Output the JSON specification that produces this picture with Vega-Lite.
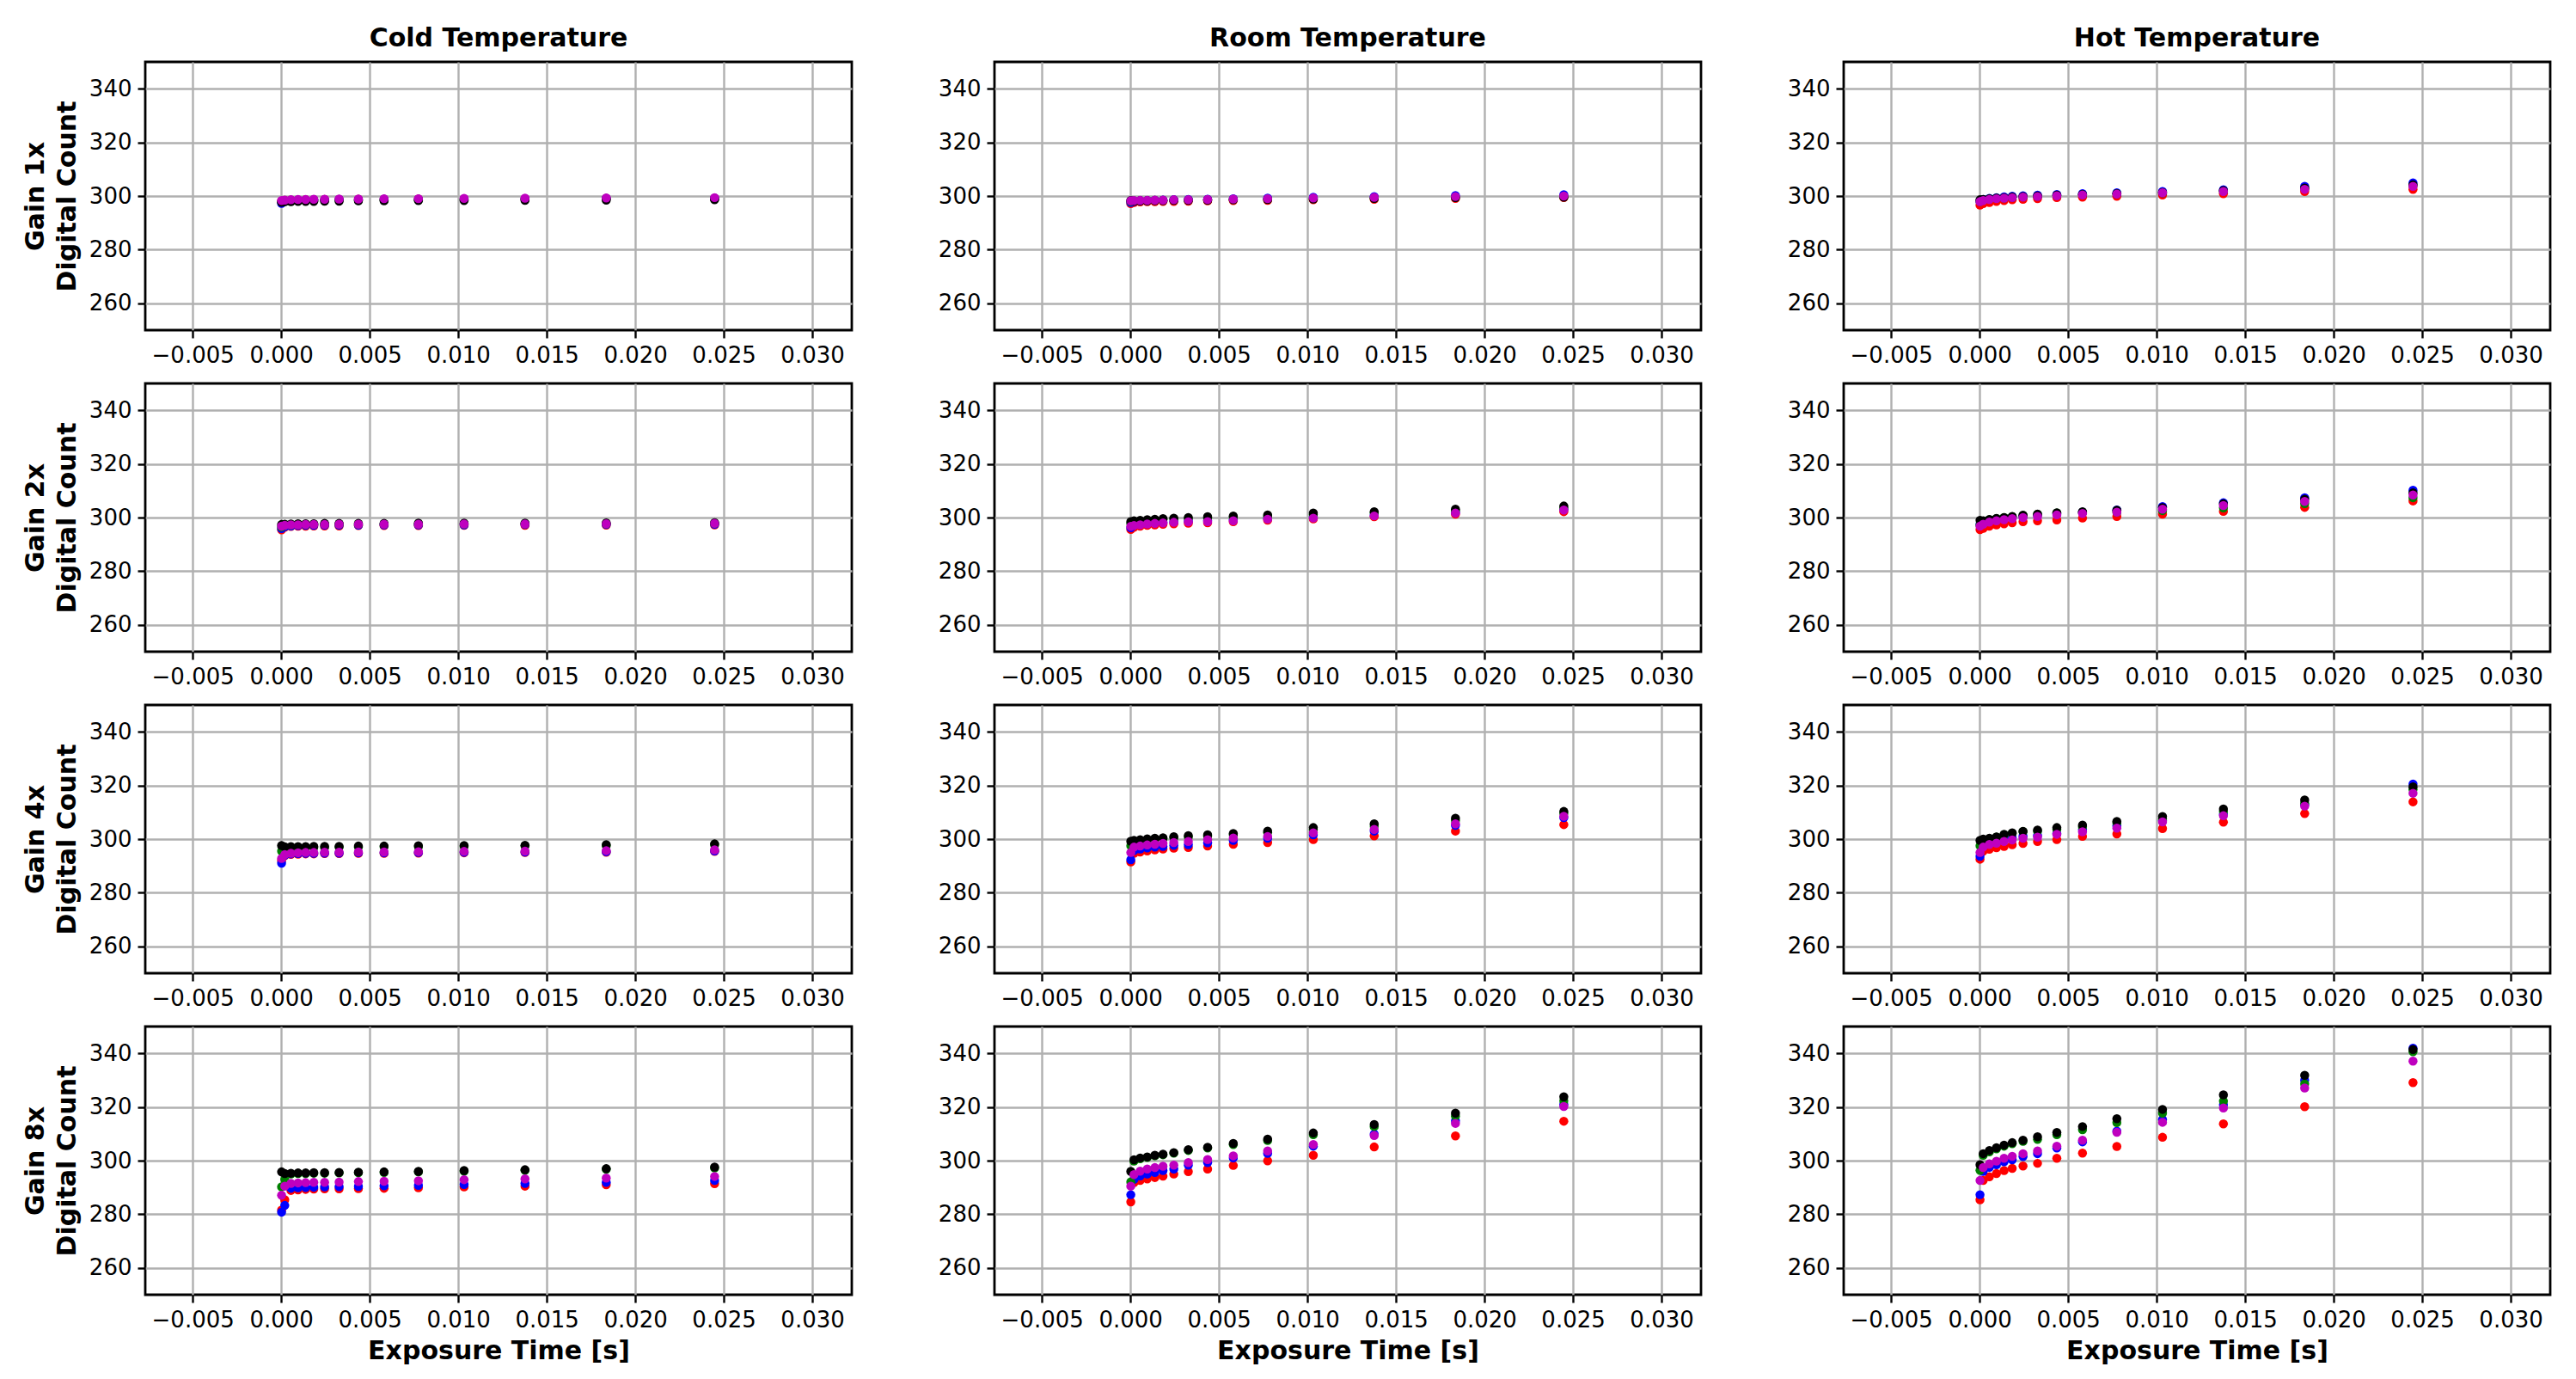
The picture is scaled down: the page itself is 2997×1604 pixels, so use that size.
{
"$schema":"https://vega.github.io/schema/vega-lite/v6.json",
"background":"white",
"padding":{"left":24,"top":28,"right":10,"bottom":10},
"config":{
"font":"DejaVu Sans",
"view":{"stroke":"black","strokeWidth":2.8},
"axis":{"labelFont":"DejaVu Sans","labelFontSize":26,"labelColor":"black","titleFont":"DejaVu Sans","titleFontSize":30,"titleFontWeight":"bold","titleColor":"black","tickColor":"black","tickSize":9,"tickWidth":2.4,"labelPadding":7,"gridColor":"#b0b0b0","gridWidth":2.4,"gridOpacity":1,"domain":false,"grid":true,"labelFlush":false,"labelOverlap":false,"titleLineHeight":37},
"axisY":{"titlePadding":10},
"axisX":{"titlePadding":8},
"title":{"font":"DejaVu Sans","fontSize":30,"fontWeight":"bold","color":"black","offset":12,"anchor":"middle"}
},
"datasets":{
"C1":[
{"s":"r","x":0.02448,"y":299.2},{"s":"r","x":0.01836,"y":299.1},{"s":"r","x":0.01377,"y":299.0},{"s":"r","x":0.01033,"y":298.9},{"s":"r","x":0.00775,"y":298.9},{"s":"r","x":0.00581,"y":298.8},{"s":"r","x":0.00436,"y":298.8},{"s":"r","x":0.00327,"y":298.7},{"s":"r","x":0.00245,"y":298.7},{"s":"r","x":0.00184,"y":298.6},{"s":"r","x":0.00138,"y":298.6},{"s":"r","x":0.00095,"y":298.5},{"s":"r","x":0.00055,"y":298.5},{"s":"r","x":0.0002,"y":298.4},{"s":"r","x":0.00002,"y":298.1},
{"s":"b","x":0.02448,"y":299.2},{"s":"b","x":0.01836,"y":299.1},{"s":"b","x":0.01377,"y":299.0},{"s":"b","x":0.01033,"y":298.9},{"s":"b","x":0.00775,"y":298.8},{"s":"b","x":0.00581,"y":298.8},{"s":"b","x":0.00436,"y":298.7},{"s":"b","x":0.00327,"y":298.7},{"s":"b","x":0.00245,"y":298.6},{"s":"b","x":0.00184,"y":298.6},{"s":"b","x":0.00138,"y":298.5},{"s":"b","x":0.00095,"y":298.5},{"s":"b","x":0.00055,"y":298.4},{"s":"b","x":0.0002,"y":298.2},{"s":"b","x":0.00002,"y":297.3},
{"s":"g","x":0.02448,"y":298.9},{"s":"g","x":0.01836,"y":298.8},{"s":"g","x":0.01377,"y":298.7},{"s":"g","x":0.01033,"y":298.6},{"s":"g","x":0.00775,"y":298.5},{"s":"g","x":0.00581,"y":298.5},{"s":"g","x":0.00436,"y":298.4},{"s":"g","x":0.00327,"y":298.4},{"s":"g","x":0.00245,"y":298.3},{"s":"g","x":0.00184,"y":298.3},{"s":"g","x":0.00138,"y":298.2},{"s":"g","x":0.00095,"y":298.2},{"s":"g","x":0.00055,"y":298.1},{"s":"g","x":0.0002,"y":298.0},{"s":"g","x":0.00002,"y":297.8},
{"s":"k","x":0.02448,"y":298.6},{"s":"k","x":0.01836,"y":298.5},{"s":"k","x":0.01377,"y":298.4},{"s":"k","x":0.01033,"y":298.3},{"s":"k","x":0.00775,"y":298.3},{"s":"k","x":0.00581,"y":298.2},{"s":"k","x":0.00436,"y":298.2},{"s":"k","x":0.00327,"y":298.1},{"s":"k","x":0.00245,"y":298.1},{"s":"k","x":0.00184,"y":298.0},{"s":"k","x":0.00138,"y":298.0},{"s":"k","x":0.00095,"y":298.0},{"s":"k","x":0.00055,"y":297.9},{"s":"k","x":0.0002,"y":297.9},{"s":"k","x":0.00002,"y":297.7},
{"s":"m","x":0.02448,"y":299.4},{"s":"m","x":0.01836,"y":299.3},{"s":"m","x":0.01377,"y":299.2},{"s":"m","x":0.01033,"y":299.1},{"s":"m","x":0.00775,"y":299.0},{"s":"m","x":0.00581,"y":299.0},{"s":"m","x":0.00436,"y":298.9},{"s":"m","x":0.00327,"y":298.9},{"s":"m","x":0.00245,"y":298.8},{"s":"m","x":0.00184,"y":298.8},{"s":"m","x":0.00138,"y":298.7},{"s":"m","x":0.00095,"y":298.7},{"s":"m","x":0.00055,"y":298.6},{"s":"m","x":0.0002,"y":298.5},{"s":"m","x":0.00002,"y":298.3}],
"C2":[
{"s":"r","x":0.02448,"y":297.3},{"s":"r","x":0.01836,"y":297.2},{"s":"r","x":0.01377,"y":297.1},{"s":"r","x":0.01033,"y":297.1},{"s":"r","x":0.00775,"y":297.0},{"s":"r","x":0.00581,"y":297.0},{"s":"r","x":0.00436,"y":297.0},{"s":"r","x":0.00327,"y":296.9},{"s":"r","x":0.00245,"y":296.9},{"s":"r","x":0.00184,"y":296.9},{"s":"r","x":0.00138,"y":296.8},{"s":"r","x":0.00095,"y":296.8},{"s":"r","x":0.00055,"y":296.7},{"s":"r","x":0.0002,"y":296.4},{"s":"r","x":0.00002,"y":295.4},
{"s":"b","x":0.02448,"y":297.5},{"s":"b","x":0.01836,"y":297.4},{"s":"b","x":0.01377,"y":297.4},{"s":"b","x":0.01033,"y":297.3},{"s":"b","x":0.00775,"y":297.3},{"s":"b","x":0.00581,"y":297.3},{"s":"b","x":0.00436,"y":297.2},{"s":"b","x":0.00327,"y":297.2},{"s":"b","x":0.00245,"y":297.2},{"s":"b","x":0.00184,"y":297.1},{"s":"b","x":0.00138,"y":297.1},{"s":"b","x":0.00095,"y":297.0},{"s":"b","x":0.00055,"y":296.9},{"s":"b","x":0.0002,"y":296.6},{"s":"b","x":0.00002,"y":295.9},
{"s":"g","x":0.02448,"y":297.8},{"s":"g","x":0.01836,"y":297.7},{"s":"g","x":0.01377,"y":297.7},{"s":"g","x":0.01033,"y":297.6},{"s":"g","x":0.00775,"y":297.6},{"s":"g","x":0.00581,"y":297.6},{"s":"g","x":0.00436,"y":297.5},{"s":"g","x":0.00327,"y":297.5},{"s":"g","x":0.00245,"y":297.5},{"s":"g","x":0.00184,"y":297.5},{"s":"g","x":0.00138,"y":297.4},{"s":"g","x":0.00095,"y":297.4},{"s":"g","x":0.00055,"y":297.3},{"s":"g","x":0.0002,"y":297.1},{"s":"g","x":0.00002,"y":296.5},
{"s":"k","x":0.02448,"y":298.1},{"s":"k","x":0.01836,"y":298.0},{"s":"k","x":0.01377,"y":297.9},{"s":"k","x":0.01033,"y":297.9},{"s":"k","x":0.00775,"y":297.9},{"s":"k","x":0.00581,"y":297.8},{"s":"k","x":0.00436,"y":297.8},{"s":"k","x":0.00327,"y":297.8},{"s":"k","x":0.00245,"y":297.8},{"s":"k","x":0.00184,"y":297.7},{"s":"k","x":0.00138,"y":297.7},{"s":"k","x":0.00095,"y":297.7},{"s":"k","x":0.00055,"y":297.6},{"s":"k","x":0.0002,"y":297.5},{"s":"k","x":0.00002,"y":297.4},
{"s":"m","x":0.02448,"y":297.8},{"s":"m","x":0.01836,"y":297.7},{"s":"m","x":0.01377,"y":297.6},{"s":"m","x":0.01033,"y":297.6},{"s":"m","x":0.00775,"y":297.5},{"s":"m","x":0.00581,"y":297.5},{"s":"m","x":0.00436,"y":297.5},{"s":"m","x":0.00327,"y":297.5},{"s":"m","x":0.00245,"y":297.4},{"s":"m","x":0.00184,"y":297.4},{"s":"m","x":0.00138,"y":297.4},{"s":"m","x":0.00095,"y":297.3},{"s":"m","x":0.00055,"y":297.3},{"s":"m","x":0.0002,"y":297.1},{"s":"m","x":0.00002,"y":296.8}],
"C4":[
{"s":"r","x":0.02448,"y":295.4},{"s":"r","x":0.01836,"y":295.1},{"s":"r","x":0.01377,"y":295.0},{"s":"r","x":0.01033,"y":294.9},{"s":"r","x":0.00775,"y":294.8},{"s":"r","x":0.00581,"y":294.7},{"s":"r","x":0.00436,"y":294.7},{"s":"r","x":0.00327,"y":294.6},{"s":"r","x":0.00245,"y":294.6},{"s":"r","x":0.00184,"y":294.5},{"s":"r","x":0.00138,"y":294.5},{"s":"r","x":0.00095,"y":294.4},{"s":"r","x":0.00055,"y":294.3},{"s":"r","x":0.0002,"y":293.8},{"s":"r","x":0.00002,"y":292.0},
{"s":"b","x":0.02448,"y":295.6},{"s":"b","x":0.01836,"y":295.3},{"s":"b","x":0.01377,"y":295.2},{"s":"b","x":0.01033,"y":295.1},{"s":"b","x":0.00775,"y":295.0},{"s":"b","x":0.00581,"y":294.9},{"s":"b","x":0.00436,"y":294.9},{"s":"b","x":0.00327,"y":294.8},{"s":"b","x":0.00245,"y":294.8},{"s":"b","x":0.00184,"y":294.7},{"s":"b","x":0.00138,"y":294.7},{"s":"b","x":0.00095,"y":294.6},{"s":"b","x":0.00055,"y":294.5},{"s":"b","x":0.0002,"y":294.0},{"s":"b","x":0.00002,"y":291.0},
{"s":"g","x":0.02448,"y":297.9},{"s":"g","x":0.01836,"y":297.6},{"s":"g","x":0.01377,"y":297.4},{"s":"g","x":0.01033,"y":297.3},{"s":"g","x":0.00775,"y":297.2},{"s":"g","x":0.00581,"y":297.1},{"s":"g","x":0.00436,"y":297.0},{"s":"g","x":0.00327,"y":297.0},{"s":"g","x":0.00245,"y":296.9},{"s":"g","x":0.00184,"y":296.9},{"s":"g","x":0.00138,"y":296.8},{"s":"g","x":0.00095,"y":296.7},{"s":"g","x":0.00055,"y":296.6},{"s":"g","x":0.0002,"y":296.3},{"s":"g","x":0.00002,"y":295.5},
{"s":"k","x":0.02448,"y":298.2},{"s":"k","x":0.01836,"y":297.9},{"s":"k","x":0.01377,"y":297.7},{"s":"k","x":0.01033,"y":297.6},{"s":"k","x":0.00775,"y":297.5},{"s":"k","x":0.00581,"y":297.4},{"s":"k","x":0.00436,"y":297.4},{"s":"k","x":0.00327,"y":297.3},{"s":"k","x":0.00245,"y":297.3},{"s":"k","x":0.00184,"y":297.3},{"s":"k","x":0.00138,"y":297.2},{"s":"k","x":0.00095,"y":297.2},{"s":"k","x":0.00055,"y":297.2},{"s":"k","x":0.0002,"y":297.1},{"s":"k","x":0.00002,"y":297.6},
{"s":"m","x":0.02448,"y":296.0},{"s":"m","x":0.01836,"y":295.7},{"s":"m","x":0.01377,"y":295.5},{"s":"m","x":0.01033,"y":295.4},{"s":"m","x":0.00775,"y":295.3},{"s":"m","x":0.00581,"y":295.2},{"s":"m","x":0.00436,"y":295.2},{"s":"m","x":0.00327,"y":295.1},{"s":"m","x":0.00245,"y":295.1},{"s":"m","x":0.00184,"y":295.0},{"s":"m","x":0.00138,"y":295.0},{"s":"m","x":0.00095,"y":294.9},{"s":"m","x":0.00055,"y":294.7},{"s":"m","x":0.0002,"y":294.2},{"s":"m","x":0.00002,"y":292.8}],
"C8":[
{"s":"r","x":0.02448,"y":291.4},{"s":"r","x":0.01836,"y":291.0},{"s":"r","x":0.01377,"y":290.5},{"s":"r","x":0.01033,"y":290.2},{"s":"r","x":0.00775,"y":289.9},{"s":"r","x":0.00581,"y":289.7},{"s":"r","x":0.00436,"y":289.6},{"s":"r","x":0.00327,"y":289.5},{"s":"r","x":0.00245,"y":289.5},{"s":"r","x":0.00184,"y":289.4},{"s":"r","x":0.00138,"y":289.3},{"s":"r","x":0.00095,"y":289.1},{"s":"r","x":0.00055,"y":288.9},{"s":"r","x":0.0002,"y":285.4},{"s":"r","x":0.00002,"y":281.6},
{"s":"b","x":0.02448,"y":292.6},{"s":"b","x":0.01836,"y":291.9},{"s":"b","x":0.01377,"y":291.5},{"s":"b","x":0.01033,"y":291.1},{"s":"b","x":0.00775,"y":290.8},{"s":"b","x":0.00581,"y":290.6},{"s":"b","x":0.00436,"y":290.4},{"s":"b","x":0.00327,"y":290.3},{"s":"b","x":0.00245,"y":290.2},{"s":"b","x":0.00184,"y":290.1},{"s":"b","x":0.00138,"y":290.0},{"s":"b","x":0.00095,"y":289.9},{"s":"b","x":0.00055,"y":289.7},{"s":"b","x":0.0002,"y":283.3},{"s":"b","x":0.00002,"y":280.8},
{"s":"g","x":0.02448,"y":297.3},{"s":"g","x":0.01836,"y":296.8},{"s":"g","x":0.01377,"y":296.4},{"s":"g","x":0.01033,"y":296.1},{"s":"g","x":0.00775,"y":295.8},{"s":"g","x":0.00581,"y":295.6},{"s":"g","x":0.00436,"y":295.5},{"s":"g","x":0.00327,"y":295.4},{"s":"g","x":0.00245,"y":295.3},{"s":"g","x":0.00184,"y":295.3},{"s":"g","x":0.00138,"y":295.2},{"s":"g","x":0.00095,"y":295.2},{"s":"g","x":0.00055,"y":295.0},{"s":"g","x":0.0002,"y":293.0},{"s":"g","x":0.00002,"y":290.2},
{"s":"k","x":0.02448,"y":297.6},{"s":"k","x":0.01836,"y":297.0},{"s":"k","x":0.01377,"y":296.6},{"s":"k","x":0.01033,"y":296.3},{"s":"k","x":0.00775,"y":296.0},{"s":"k","x":0.00581,"y":295.8},{"s":"k","x":0.00436,"y":295.7},{"s":"k","x":0.00327,"y":295.6},{"s":"k","x":0.00245,"y":295.5},{"s":"k","x":0.00184,"y":295.5},{"s":"k","x":0.00138,"y":295.4},{"s":"k","x":0.00095,"y":295.4},{"s":"k","x":0.00055,"y":295.3},{"s":"k","x":0.0002,"y":295.2},{"s":"k","x":0.00002,"y":295.8},
{"s":"m","x":0.02448,"y":294.1},{"s":"m","x":0.01836,"y":293.5},{"s":"m","x":0.01377,"y":293.2},{"s":"m","x":0.01033,"y":292.9},{"s":"m","x":0.00775,"y":292.5},{"s":"m","x":0.00581,"y":292.3},{"s":"m","x":0.00436,"y":292.2},{"s":"m","x":0.00327,"y":292.0},{"s":"m","x":0.00245,"y":291.9},{"s":"m","x":0.00184,"y":291.9},{"s":"m","x":0.00138,"y":291.8},{"s":"m","x":0.00095,"y":291.7},{"s":"m","x":0.00055,"y":291.5},{"s":"m","x":0.0002,"y":290.5},{"s":"m","x":0.00002,"y":287.1}],
"R1":[
{"s":"r","x":0.02448,"y":299.4},{"s":"r","x":0.01836,"y":299.1},{"s":"r","x":0.01377,"y":298.8},{"s":"r","x":0.01033,"y":298.6},{"s":"r","x":0.00775,"y":298.4},{"s":"r","x":0.00581,"y":298.3},{"s":"r","x":0.00436,"y":298.2},{"s":"r","x":0.00327,"y":298.1},{"s":"r","x":0.00245,"y":298.0},{"s":"r","x":0.00184,"y":298.0},{"s":"r","x":0.00138,"y":297.9},{"s":"r","x":0.00095,"y":297.9},{"s":"r","x":0.00055,"y":297.8},{"s":"r","x":0.0002,"y":297.6},{"s":"r","x":0.00002,"y":297.2},
{"s":"b","x":0.02448,"y":300.5},{"s":"b","x":0.01836,"y":300.2},{"s":"b","x":0.01377,"y":299.8},{"s":"b","x":0.01033,"y":299.5},{"s":"b","x":0.00775,"y":299.2},{"s":"b","x":0.00581,"y":299.0},{"s":"b","x":0.00436,"y":298.8},{"s":"b","x":0.00327,"y":298.7},{"s":"b","x":0.00245,"y":298.6},{"s":"b","x":0.00184,"y":298.5},{"s":"b","x":0.00138,"y":298.4},{"s":"b","x":0.00095,"y":298.3},{"s":"b","x":0.00055,"y":298.2},{"s":"b","x":0.0002,"y":298.0},{"s":"b","x":0.00002,"y":297.6},
{"s":"g","x":0.02448,"y":299.7},{"s":"g","x":0.01836,"y":299.5},{"s":"g","x":0.01377,"y":299.2},{"s":"g","x":0.01033,"y":299.0},{"s":"g","x":0.00775,"y":298.8},{"s":"g","x":0.00581,"y":298.7},{"s":"g","x":0.00436,"y":298.6},{"s":"g","x":0.00327,"y":298.5},{"s":"g","x":0.00245,"y":298.5},{"s":"g","x":0.00184,"y":298.4},{"s":"g","x":0.00138,"y":298.4},{"s":"g","x":0.00095,"y":298.3},{"s":"g","x":0.00055,"y":298.3},{"s":"g","x":0.0002,"y":298.2},{"s":"g","x":0.00002,"y":298.0},
{"s":"k","x":0.02448,"y":299.6},{"s":"k","x":0.01836,"y":299.4},{"s":"k","x":0.01377,"y":299.1},{"s":"k","x":0.01033,"y":298.9},{"s":"k","x":0.00775,"y":298.7},{"s":"k","x":0.00581,"y":298.6},{"s":"k","x":0.00436,"y":298.5},{"s":"k","x":0.00327,"y":298.4},{"s":"k","x":0.00245,"y":298.4},{"s":"k","x":0.00184,"y":298.3},{"s":"k","x":0.00138,"y":298.3},{"s":"k","x":0.00095,"y":298.2},{"s":"k","x":0.00055,"y":298.2},{"s":"k","x":0.0002,"y":298.1},{"s":"k","x":0.00002,"y":298.3},
{"s":"m","x":0.02448,"y":300.0},{"s":"m","x":0.01836,"y":299.8},{"s":"m","x":0.01377,"y":299.5},{"s":"m","x":0.01033,"y":299.3},{"s":"m","x":0.00775,"y":299.0},{"s":"m","x":0.00581,"y":298.9},{"s":"m","x":0.00436,"y":298.7},{"s":"m","x":0.00327,"y":298.6},{"s":"m","x":0.00245,"y":298.6},{"s":"m","x":0.00184,"y":298.5},{"s":"m","x":0.00138,"y":298.5},{"s":"m","x":0.00095,"y":298.4},{"s":"m","x":0.00055,"y":298.4},{"s":"m","x":0.0002,"y":298.3},{"s":"m","x":0.00002,"y":298.2}],
"R2":[
{"s":"r","x":0.02448,"y":302.2},{"s":"r","x":0.01836,"y":301.3},{"s":"r","x":0.01377,"y":300.3},{"s":"r","x":0.01033,"y":299.5},{"s":"r","x":0.00775,"y":299.0},{"s":"r","x":0.00581,"y":298.5},{"s":"r","x":0.00436,"y":298.1},{"s":"r","x":0.00327,"y":297.9},{"s":"r","x":0.00245,"y":297.7},{"s":"r","x":0.00184,"y":297.5},{"s":"r","x":0.00138,"y":297.3},{"s":"r","x":0.00095,"y":297.1},{"s":"r","x":0.00055,"y":296.8},{"s":"r","x":0.0002,"y":296.4},{"s":"r","x":0.00002,"y":295.6},
{"s":"b","x":0.02448,"y":303.1},{"s":"b","x":0.01836,"y":302.0},{"s":"b","x":0.01377,"y":301.0},{"s":"b","x":0.01033,"y":300.3},{"s":"b","x":0.00775,"y":299.7},{"s":"b","x":0.00581,"y":299.2},{"s":"b","x":0.00436,"y":298.9},{"s":"b","x":0.00327,"y":298.7},{"s":"b","x":0.00245,"y":298.5},{"s":"b","x":0.00184,"y":298.3},{"s":"b","x":0.00138,"y":298.1},{"s":"b","x":0.00095,"y":297.9},{"s":"b","x":0.00055,"y":297.6},{"s":"b","x":0.0002,"y":297.2},{"s":"b","x":0.00002,"y":296.2},
{"s":"g","x":0.02448,"y":303.6},{"s":"g","x":0.01836,"y":302.6},{"s":"g","x":0.01377,"y":301.7},{"s":"g","x":0.01033,"y":301.1},{"s":"g","x":0.00775,"y":300.4},{"s":"g","x":0.00581,"y":300.1},{"s":"g","x":0.00436,"y":299.9},{"s":"g","x":0.00327,"y":299.7},{"s":"g","x":0.00245,"y":299.5},{"s":"g","x":0.00184,"y":299.3},{"s":"g","x":0.00138,"y":299.1},{"s":"g","x":0.00095,"y":298.9},{"s":"g","x":0.00055,"y":298.7},{"s":"g","x":0.0002,"y":298.4},{"s":"g","x":0.00002,"y":297.8},
{"s":"k","x":0.02448,"y":304.3},{"s":"k","x":0.01836,"y":303.1},{"s":"k","x":0.01377,"y":302.2},{"s":"k","x":0.01033,"y":301.7},{"s":"k","x":0.00775,"y":301.0},{"s":"k","x":0.00581,"y":300.6},{"s":"k","x":0.00436,"y":300.3},{"s":"k","x":0.00327,"y":300.0},{"s":"k","x":0.00245,"y":299.8},{"s":"k","x":0.00184,"y":299.6},{"s":"k","x":0.00138,"y":299.4},{"s":"k","x":0.00095,"y":299.2},{"s":"k","x":0.00055,"y":299.0},{"s":"k","x":0.0002,"y":298.8},{"s":"k","x":0.00002,"y":298.5},
{"s":"m","x":0.02448,"y":302.8},{"s":"m","x":0.01836,"y":301.7},{"s":"m","x":0.01377,"y":300.6},{"s":"m","x":0.01033,"y":299.8},{"s":"m","x":0.00775,"y":299.4},{"s":"m","x":0.00581,"y":298.8},{"s":"m","x":0.00436,"y":298.5},{"s":"m","x":0.00327,"y":298.4},{"s":"m","x":0.00245,"y":298.2},{"s":"m","x":0.00184,"y":298.0},{"s":"m","x":0.00138,"y":297.8},{"s":"m","x":0.00095,"y":297.6},{"s":"m","x":0.00055,"y":297.3},{"s":"m","x":0.0002,"y":297.0},{"s":"m","x":0.00002,"y":296.7}],
"R4":[
{"s":"r","x":0.02448,"y":305.4},{"s":"r","x":0.01836,"y":303.0},{"s":"r","x":0.01377,"y":301.2},{"s":"r","x":0.01033,"y":299.8},{"s":"r","x":0.00775,"y":298.7},{"s":"r","x":0.00581,"y":298.1},{"s":"r","x":0.00436,"y":297.4},{"s":"r","x":0.00327,"y":296.9},{"s":"r","x":0.00245,"y":296.6},{"s":"r","x":0.00184,"y":296.3},{"s":"r","x":0.00138,"y":296.0},{"s":"r","x":0.00095,"y":295.6},{"s":"r","x":0.00055,"y":295.2},{"s":"r","x":0.0002,"y":294.7},{"s":"r","x":0.00002,"y":291.5},
{"s":"b","x":0.02448,"y":308.0},{"s":"b","x":0.01836,"y":305.1},{"s":"b","x":0.01377,"y":303.0},{"s":"b","x":0.01033,"y":301.6},{"s":"b","x":0.00775,"y":300.3},{"s":"b","x":0.00581,"y":299.5},{"s":"b","x":0.00436,"y":298.6},{"s":"b","x":0.00327,"y":297.9},{"s":"b","x":0.00245,"y":297.7},{"s":"b","x":0.00184,"y":297.3},{"s":"b","x":0.00138,"y":297.0},{"s":"b","x":0.00095,"y":296.7},{"s":"b","x":0.00055,"y":296.3},{"s":"b","x":0.0002,"y":295.7},{"s":"b","x":0.00002,"y":292.3},
{"s":"g","x":0.02448,"y":309.6},{"s":"g","x":0.01836,"y":306.9},{"s":"g","x":0.01377,"y":304.8},{"s":"g","x":0.01033,"y":303.5},{"s":"g","x":0.00775,"y":302.5},{"s":"g","x":0.00581,"y":301.6},{"s":"g","x":0.00436,"y":301.1},{"s":"g","x":0.00327,"y":300.8},{"s":"g","x":0.00245,"y":300.5},{"s":"g","x":0.00184,"y":300.2},{"s":"g","x":0.00138,"y":300.0},{"s":"g","x":0.00095,"y":299.7},{"s":"g","x":0.00055,"y":299.4},{"s":"g","x":0.0002,"y":299.0},{"s":"g","x":0.00002,"y":297.5},
{"s":"k","x":0.02448,"y":310.3},{"s":"k","x":0.01836,"y":307.8},{"s":"k","x":0.01377,"y":305.7},{"s":"k","x":0.01033,"y":304.3},{"s":"k","x":0.00775,"y":303.0},{"s":"k","x":0.00581,"y":302.1},{"s":"k","x":0.00436,"y":301.6},{"s":"k","x":0.00327,"y":301.3},{"s":"k","x":0.00245,"y":300.9},{"s":"k","x":0.00184,"y":300.5},{"s":"k","x":0.00138,"y":300.3},{"s":"k","x":0.00095,"y":300.1},{"s":"k","x":0.00055,"y":299.8},{"s":"k","x":0.0002,"y":299.5},{"s":"k","x":0.00002,"y":299.2},
{"s":"m","x":0.02448,"y":308.5},{"s":"m","x":0.01836,"y":305.7},{"s":"m","x":0.01377,"y":303.6},{"s":"m","x":0.01033,"y":302.3},{"s":"m","x":0.00775,"y":301.0},{"s":"m","x":0.00581,"y":300.4},{"s":"m","x":0.00436,"y":299.8},{"s":"m","x":0.00327,"y":299.1},{"s":"m","x":0.00245,"y":298.7},{"s":"m","x":0.00184,"y":298.4},{"s":"m","x":0.00138,"y":298.1},{"s":"m","x":0.00095,"y":297.8},{"s":"m","x":0.00055,"y":297.4},{"s":"m","x":0.0002,"y":297.0},{"s":"m","x":0.00002,"y":295.0}],
"R8":[
{"s":"r","x":0.02448,"y":314.7},{"s":"r","x":0.01836,"y":309.2},{"s":"r","x":0.01377,"y":305.1},{"s":"r","x":0.01033,"y":302.0},{"s":"r","x":0.00775,"y":299.9},{"s":"r","x":0.00581,"y":298.2},{"s":"r","x":0.00436,"y":296.9},{"s":"r","x":0.00327,"y":295.9},{"s":"r","x":0.00245,"y":295.0},{"s":"r","x":0.00184,"y":294.2},{"s":"r","x":0.00138,"y":293.7},{"s":"r","x":0.00095,"y":293.2},{"s":"r","x":0.00055,"y":292.6},{"s":"r","x":0.0002,"y":291.8},{"s":"r","x":0.00002,"y":284.6},
{"s":"b","x":0.02448,"y":320.9},{"s":"b","x":0.01836,"y":314.8},{"s":"b","x":0.01377,"y":309.9},{"s":"b","x":0.01033,"y":305.4},{"s":"b","x":0.00775,"y":302.7},{"s":"b","x":0.00581,"y":301.0},{"s":"b","x":0.00436,"y":299.3},{"s":"b","x":0.00327,"y":298.3},{"s":"b","x":0.00245,"y":296.9},{"s":"b","x":0.00184,"y":296.3},{"s":"b","x":0.00138,"y":295.6},{"s":"b","x":0.00095,"y":295.0},{"s":"b","x":0.00055,"y":294.3},{"s":"b","x":0.0002,"y":293.0},{"s":"b","x":0.00002,"y":287.3},
{"s":"g","x":0.02448,"y":322.3},{"s":"g","x":0.01836,"y":316.6},{"s":"g","x":0.01377,"y":312.7},{"s":"g","x":0.01033,"y":309.7},{"s":"g","x":0.00775,"y":307.5},{"s":"g","x":0.00581,"y":306.0},{"s":"g","x":0.00436,"y":304.7},{"s":"g","x":0.00327,"y":303.8},{"s":"g","x":0.00245,"y":302.8},{"s":"g","x":0.00184,"y":302.2},{"s":"g","x":0.00138,"y":301.8},{"s":"g","x":0.00095,"y":301.2},{"s":"g","x":0.00055,"y":300.7},{"s":"g","x":0.0002,"y":299.8},{"s":"g","x":0.00002,"y":292.1},
{"s":"k","x":0.02448,"y":323.8},{"s":"k","x":0.01836,"y":317.7},{"s":"k","x":0.01377,"y":313.5},{"s":"k","x":0.01033,"y":310.3},{"s":"k","x":0.00775,"y":308.0},{"s":"k","x":0.00581,"y":306.4},{"s":"k","x":0.00436,"y":305.0},{"s":"k","x":0.00327,"y":304.1},{"s":"k","x":0.00245,"y":303.0},{"s":"k","x":0.00184,"y":302.4},{"s":"k","x":0.00138,"y":302.0},{"s":"k","x":0.00095,"y":301.4},{"s":"k","x":0.00055,"y":301.0},{"s":"k","x":0.0002,"y":300.3},{"s":"k","x":0.00002,"y":296.0},
{"s":"m","x":0.02448,"y":320.2},{"s":"m","x":0.01836,"y":313.9},{"s":"m","x":0.01377,"y":309.4},{"s":"m","x":0.01033,"y":306.0},{"s":"m","x":0.00775,"y":303.6},{"s":"m","x":0.00581,"y":301.8},{"s":"m","x":0.00436,"y":300.4},{"s":"m","x":0.00327,"y":299.3},{"s":"m","x":0.00245,"y":298.3},{"s":"m","x":0.00184,"y":297.9},{"s":"m","x":0.00138,"y":297.4},{"s":"m","x":0.00095,"y":296.9},{"s":"m","x":0.00055,"y":296.1},{"s":"m","x":0.0002,"y":294.8},{"s":"m","x":0.00002,"y":290.5}],
"H1":[
{"s":"r","x":0.02448,"y":302.5},{"s":"r","x":0.01836,"y":301.7},{"s":"r","x":0.01377,"y":300.9},{"s":"r","x":0.01033,"y":300.4},{"s":"r","x":0.00775,"y":299.9},{"s":"r","x":0.00581,"y":299.6},{"s":"r","x":0.00436,"y":299.4},{"s":"r","x":0.00327,"y":299.0},{"s":"r","x":0.00245,"y":298.8},{"s":"r","x":0.00184,"y":298.6},{"s":"r","x":0.00138,"y":298.3},{"s":"r","x":0.00095,"y":298.0},{"s":"r","x":0.00055,"y":297.6},{"s":"r","x":0.0002,"y":297.2},{"s":"r","x":0.00002,"y":296.6},
{"s":"b","x":0.02448,"y":304.9},{"s":"b","x":0.01836,"y":303.6},{"s":"b","x":0.01377,"y":302.3},{"s":"b","x":0.01033,"y":301.7},{"s":"b","x":0.00775,"y":301.2},{"s":"b","x":0.00581,"y":300.9},{"s":"b","x":0.00436,"y":300.6},{"s":"b","x":0.00327,"y":300.3},{"s":"b","x":0.00245,"y":300.1},{"s":"b","x":0.00184,"y":299.9},{"s":"b","x":0.00138,"y":299.7},{"s":"b","x":0.00095,"y":299.4},{"s":"b","x":0.00055,"y":299.1},{"s":"b","x":0.0002,"y":298.7},{"s":"b","x":0.00002,"y":298.0},
{"s":"g","x":0.02448,"y":303.9},{"s":"g","x":0.01836,"y":302.8},{"s":"g","x":0.01377,"y":301.8},{"s":"g","x":0.01033,"y":301.2},{"s":"g","x":0.00775,"y":300.8},{"s":"g","x":0.00581,"y":300.5},{"s":"g","x":0.00436,"y":300.2},{"s":"g","x":0.00327,"y":299.9},{"s":"g","x":0.00245,"y":299.7},{"s":"g","x":0.00184,"y":299.5},{"s":"g","x":0.00138,"y":299.3},{"s":"g","x":0.00095,"y":299.1},{"s":"g","x":0.00055,"y":298.9},{"s":"g","x":0.0002,"y":298.5},{"s":"g","x":0.00002,"y":298.0},
{"s":"k","x":0.02448,"y":304.2},{"s":"k","x":0.01836,"y":303.0},{"s":"k","x":0.01377,"y":302.0},{"s":"k","x":0.01033,"y":301.3},{"s":"k","x":0.00775,"y":300.9},{"s":"k","x":0.00581,"y":300.6},{"s":"k","x":0.00436,"y":300.3},{"s":"k","x":0.00327,"y":300.0},{"s":"k","x":0.00245,"y":299.8},{"s":"k","x":0.00184,"y":299.6},{"s":"k","x":0.00138,"y":299.4},{"s":"k","x":0.00095,"y":299.2},{"s":"k","x":0.00055,"y":299.0},{"s":"k","x":0.0002,"y":298.7},{"s":"k","x":0.00002,"y":298.6},
{"s":"m","x":0.02448,"y":303.6},{"s":"m","x":0.01836,"y":302.5},{"s":"m","x":0.01377,"y":301.7},{"s":"m","x":0.01033,"y":301.2},{"s":"m","x":0.00775,"y":300.7},{"s":"m","x":0.00581,"y":300.4},{"s":"m","x":0.00436,"y":300.1},{"s":"m","x":0.00327,"y":299.8},{"s":"m","x":0.00245,"y":299.6},{"s":"m","x":0.00184,"y":299.4},{"s":"m","x":0.00138,"y":299.2},{"s":"m","x":0.00095,"y":299.0},{"s":"m","x":0.00055,"y":298.7},{"s":"m","x":0.0002,"y":298.3},{"s":"m","x":0.00002,"y":297.9}],
"H2":[
{"s":"r","x":0.02448,"y":306.2},{"s":"r","x":0.01836,"y":303.8},{"s":"r","x":0.01377,"y":302.3},{"s":"r","x":0.01033,"y":301.3},{"s":"r","x":0.00775,"y":300.4},{"s":"r","x":0.00581,"y":299.8},{"s":"r","x":0.00436,"y":299.1},{"s":"r","x":0.00327,"y":298.8},{"s":"r","x":0.00245,"y":298.5},{"s":"r","x":0.00184,"y":298.1},{"s":"r","x":0.00138,"y":297.7},{"s":"r","x":0.00095,"y":297.3},{"s":"r","x":0.00055,"y":296.8},{"s":"r","x":0.0002,"y":296.0},{"s":"r","x":0.00002,"y":295.5},
{"s":"b","x":0.02448,"y":310.2},{"s":"b","x":0.01836,"y":307.4},{"s":"b","x":0.01377,"y":305.5},{"s":"b","x":0.01033,"y":304.1},{"s":"b","x":0.00775,"y":302.8},{"s":"b","x":0.00581,"y":302.0},{"s":"b","x":0.00436,"y":301.4},{"s":"b","x":0.00327,"y":300.9},{"s":"b","x":0.00245,"y":300.5},{"s":"b","x":0.00184,"y":300.1},{"s":"b","x":0.00138,"y":299.8},{"s":"b","x":0.00095,"y":299.4},{"s":"b","x":0.00055,"y":299.0},{"s":"b","x":0.0002,"y":298.5},{"s":"b","x":0.00002,"y":297.5},
{"s":"g","x":0.02448,"y":307.4},{"s":"g","x":0.01836,"y":305.2},{"s":"g","x":0.01377,"y":303.6},{"s":"g","x":0.01033,"y":302.6},{"s":"g","x":0.00775,"y":302.0},{"s":"g","x":0.00581,"y":301.9},{"s":"g","x":0.00436,"y":301.7},{"s":"g","x":0.00327,"y":301.2},{"s":"g","x":0.00245,"y":300.8},{"s":"g","x":0.00184,"y":300.3},{"s":"g","x":0.00138,"y":300.0},{"s":"g","x":0.00095,"y":299.6},{"s":"g","x":0.00055,"y":299.2},{"s":"g","x":0.0002,"y":298.6},{"s":"g","x":0.00002,"y":297.2},
{"s":"k","x":0.02448,"y":309.2},{"s":"k","x":0.01836,"y":306.8},{"s":"k","x":0.01377,"y":305.1},{"s":"k","x":0.01033,"y":303.7},{"s":"k","x":0.00775,"y":302.7},{"s":"k","x":0.00581,"y":302.2},{"s":"k","x":0.00436,"y":301.8},{"s":"k","x":0.00327,"y":301.3},{"s":"k","x":0.00245,"y":300.9},{"s":"k","x":0.00184,"y":300.4},{"s":"k","x":0.00138,"y":300.0},{"s":"k","x":0.00095,"y":299.7},{"s":"k","x":0.00055,"y":299.3},{"s":"k","x":0.0002,"y":298.8},{"s":"k","x":0.00002,"y":299.0},
{"s":"m","x":0.02448,"y":308.4},{"s":"m","x":0.01836,"y":306.0},{"s":"m","x":0.01377,"y":304.5},{"s":"m","x":0.01033,"y":303.1},{"s":"m","x":0.00775,"y":302.0},{"s":"m","x":0.00581,"y":301.5},{"s":"m","x":0.00436,"y":301.0},{"s":"m","x":0.00327,"y":300.4},{"s":"m","x":0.00245,"y":300.0},{"s":"m","x":0.00184,"y":299.6},{"s":"m","x":0.00138,"y":299.2},{"s":"m","x":0.00095,"y":298.8},{"s":"m","x":0.00055,"y":298.3},{"s":"m","x":0.0002,"y":297.5},{"s":"m","x":0.00002,"y":296.8}],
"H4":[
{"s":"r","x":0.02448,"y":313.9},{"s":"r","x":0.01836,"y":309.5},{"s":"r","x":0.01377,"y":306.3},{"s":"r","x":0.01033,"y":303.9},{"s":"r","x":0.00775,"y":301.9},{"s":"r","x":0.00581,"y":301.0},{"s":"r","x":0.00436,"y":299.8},{"s":"r","x":0.00327,"y":299.1},{"s":"r","x":0.00245,"y":298.4},{"s":"r","x":0.00184,"y":297.9},{"s":"r","x":0.00138,"y":297.3},{"s":"r","x":0.00095,"y":296.8},{"s":"r","x":0.00055,"y":296.2},{"s":"r","x":0.0002,"y":295.5},{"s":"r","x":0.00002,"y":292.5},
{"s":"b","x":0.02448,"y":320.5},{"s":"b","x":0.01836,"y":312.8},{"s":"b","x":0.01377,"y":309.3},{"s":"b","x":0.01033,"y":306.9},{"s":"b","x":0.00775,"y":305.0},{"s":"b","x":0.00581,"y":303.5},{"s":"b","x":0.00436,"y":302.1},{"s":"b","x":0.00327,"y":301.4},{"s":"b","x":0.00245,"y":301.1},{"s":"b","x":0.00184,"y":300.5},{"s":"b","x":0.00138,"y":299.6},{"s":"b","x":0.00095,"y":299.0},{"s":"b","x":0.00055,"y":298.3},{"s":"b","x":0.0002,"y":297.3},{"s":"b","x":0.00002,"y":293.6},
{"s":"g","x":0.02448,"y":318.5},{"s":"g","x":0.01836,"y":313.3},{"s":"g","x":0.01377,"y":310.3},{"s":"g","x":0.01033,"y":307.5},{"s":"g","x":0.00775,"y":306.1},{"s":"g","x":0.00581,"y":304.6},{"s":"g","x":0.00436,"y":303.7},{"s":"g","x":0.00327,"y":303.0},{"s":"g","x":0.00245,"y":302.8},{"s":"g","x":0.00184,"y":302.2},{"s":"g","x":0.00138,"y":301.6},{"s":"g","x":0.00095,"y":300.7},{"s":"g","x":0.00055,"y":300.1},{"s":"g","x":0.0002,"y":299.5},{"s":"g","x":0.00002,"y":297.5},
{"s":"k","x":0.02448,"y":319.5},{"s":"k","x":0.01836,"y":314.6},{"s":"k","x":0.01377,"y":311.2},{"s":"k","x":0.01033,"y":308.4},{"s":"k","x":0.00775,"y":306.6},{"s":"k","x":0.00581,"y":305.2},{"s":"k","x":0.00436,"y":304.3},{"s":"k","x":0.00327,"y":303.4},{"s":"k","x":0.00245,"y":302.9},{"s":"k","x":0.00184,"y":302.3},{"s":"k","x":0.00138,"y":301.8},{"s":"k","x":0.00095,"y":300.8},{"s":"k","x":0.00055,"y":300.3},{"s":"k","x":0.0002,"y":300.0},{"s":"k","x":0.00002,"y":299.5},
{"s":"m","x":0.02448,"y":317.1},{"s":"m","x":0.01836,"y":312.3},{"s":"m","x":0.01377,"y":308.7},{"s":"m","x":0.01033,"y":306.4},{"s":"m","x":0.00775,"y":304.1},{"s":"m","x":0.00581,"y":302.7},{"s":"m","x":0.00436,"y":301.8},{"s":"m","x":0.00327,"y":300.7},{"s":"m","x":0.00245,"y":300.3},{"s":"m","x":0.00184,"y":299.7},{"s":"m","x":0.00138,"y":299.1},{"s":"m","x":0.00095,"y":298.5},{"s":"m","x":0.00055,"y":298.0},{"s":"m","x":0.0002,"y":297.0},{"s":"m","x":0.00002,"y":295.0}],
"H8":[
{"s":"r","x":0.02448,"y":329.1},{"s":"r","x":0.01836,"y":320.1},{"s":"r","x":0.01377,"y":313.7},{"s":"r","x":0.01033,"y":308.7},{"s":"r","x":0.00775,"y":305.3},{"s":"r","x":0.00581,"y":302.8},{"s":"r","x":0.00436,"y":300.9},{"s":"r","x":0.00327,"y":299.0},{"s":"r","x":0.00245,"y":298.0},{"s":"r","x":0.00184,"y":297.1},{"s":"r","x":0.00138,"y":296.3},{"s":"r","x":0.00095,"y":295.2},{"s":"r","x":0.00055,"y":294.0},{"s":"r","x":0.0002,"y":292.6},{"s":"r","x":0.00002,"y":285.4},
{"s":"b","x":0.02448,"y":341.9},{"s":"b","x":0.01836,"y":330.0},{"s":"b","x":0.01377,"y":320.8},{"s":"b","x":0.01033,"y":315.3},{"s":"b","x":0.00775,"y":311.0},{"s":"b","x":0.00581,"y":307.0},{"s":"b","x":0.00436,"y":304.7},{"s":"b","x":0.00327,"y":302.6},{"s":"b","x":0.00245,"y":301.5},{"s":"b","x":0.00184,"y":300.3},{"s":"b","x":0.00138,"y":299.6},{"s":"b","x":0.00095,"y":298.5},{"s":"b","x":0.00055,"y":297.5},{"s":"b","x":0.0002,"y":296.0},{"s":"b","x":0.00002,"y":287.3},
{"s":"g","x":0.02448,"y":340.6},{"s":"g","x":0.01836,"y":328.6},{"s":"g","x":0.01377,"y":322.2},{"s":"g","x":0.01033,"y":317.7},{"s":"g","x":0.00775,"y":314.2},{"s":"g","x":0.00581,"y":311.5},{"s":"g","x":0.00436,"y":309.7},{"s":"g","x":0.00327,"y":307.9},{"s":"g","x":0.00245,"y":307.2},{"s":"g","x":0.00184,"y":306.3},{"s":"g","x":0.00138,"y":305.4},{"s":"g","x":0.00095,"y":304.4},{"s":"g","x":0.00055,"y":303.3},{"s":"g","x":0.0002,"y":302.0},{"s":"g","x":0.00002,"y":296.4},
{"s":"k","x":0.02448,"y":341.4},{"s":"k","x":0.01836,"y":331.8},{"s":"k","x":0.01377,"y":324.5},{"s":"k","x":0.01033,"y":319.1},{"s":"k","x":0.00775,"y":315.6},{"s":"k","x":0.00581,"y":312.7},{"s":"k","x":0.00436,"y":310.5},{"s":"k","x":0.00327,"y":308.9},{"s":"k","x":0.00245,"y":307.6},{"s":"k","x":0.00184,"y":306.7},{"s":"k","x":0.00138,"y":305.8},{"s":"k","x":0.00095,"y":304.8},{"s":"k","x":0.00055,"y":303.8},{"s":"k","x":0.0002,"y":302.6},{"s":"k","x":0.00002,"y":298.5},
{"s":"m","x":0.02448,"y":337.1},{"s":"m","x":0.01836,"y":327.1},{"s":"m","x":0.01377,"y":319.6},{"s":"m","x":0.01033,"y":314.3},{"s":"m","x":0.00775,"y":310.6},{"s":"m","x":0.00581,"y":307.6},{"s":"m","x":0.00436,"y":305.4},{"s":"m","x":0.00327,"y":303.6},{"s":"m","x":0.00245,"y":302.6},{"s":"m","x":0.00184,"y":301.6},{"s":"m","x":0.00138,"y":300.9},{"s":"m","x":0.00095,"y":299.8},{"s":"m","x":0.00055,"y":298.8},{"s":"m","x":0.0002,"y":297.4},{"s":"m","x":0.00002,"y":292.6}]
},
"columns":3,
"spacing":{"row":62,"column":166},
"bounds":"flush",
"concat":[
{"width":822,"height":312,"data":{"name":"C1"},"title":"Cold Temperature","mark":{"type":"point","filled":true,"size":110,"opacity":1},"encoding":{"x":{"field":"x","type":"quantitative","scale":{"domain":[-0.00768,0.03223],"nice":false,"zero":false},"axis":{"values":[-0.005,0,0.005,0.01,0.015,0.02,0.025,0.03],"format":".3f","title":null}},"y":{"field":"y","type":"quantitative","scale":{"domain":[250,350],"nice":false,"zero":false},"axis":{"values":[260,280,300,320,340],"title":["Gain 1x","Digital Count"]}},"color":{"field":"s","type":"nominal","scale":{"domain":["k","g","b","m","r"],"range":["#000000","#008000","#0000ff","#bf00bf","#ff0000"]},"legend":null}}},
{"width":822,"height":312,"data":{"name":"R1"},"title":"Room Temperature","mark":{"type":"point","filled":true,"size":110,"opacity":1},"encoding":{"x":{"field":"x","type":"quantitative","scale":{"domain":[-0.00768,0.03223],"nice":false,"zero":false},"axis":{"values":[-0.005,0,0.005,0.01,0.015,0.02,0.025,0.03],"format":".3f","title":null}},"y":{"field":"y","type":"quantitative","scale":{"domain":[250,350],"nice":false,"zero":false},"axis":{"values":[260,280,300,320,340],"title":null}},"color":{"field":"s","type":"nominal","scale":{"domain":["k","g","b","m","r"],"range":["#000000","#008000","#0000ff","#bf00bf","#ff0000"]},"legend":null}}},
{"width":822,"height":312,"data":{"name":"H1"},"title":"Hot Temperature","mark":{"type":"point","filled":true,"size":110,"opacity":1},"encoding":{"x":{"field":"x","type":"quantitative","scale":{"domain":[-0.00768,0.03223],"nice":false,"zero":false},"axis":{"values":[-0.005,0,0.005,0.01,0.015,0.02,0.025,0.03],"format":".3f","title":null}},"y":{"field":"y","type":"quantitative","scale":{"domain":[250,350],"nice":false,"zero":false},"axis":{"values":[260,280,300,320,340],"title":null}},"color":{"field":"s","type":"nominal","scale":{"domain":["k","g","b","m","r"],"range":["#000000","#008000","#0000ff","#bf00bf","#ff0000"]},"legend":null}}},
{"width":822,"height":312,"data":{"name":"C2"},"mark":{"type":"point","filled":true,"size":110,"opacity":1},"encoding":{"x":{"field":"x","type":"quantitative","scale":{"domain":[-0.00768,0.03223],"nice":false,"zero":false},"axis":{"values":[-0.005,0,0.005,0.01,0.015,0.02,0.025,0.03],"format":".3f","title":null}},"y":{"field":"y","type":"quantitative","scale":{"domain":[250,350],"nice":false,"zero":false},"axis":{"values":[260,280,300,320,340],"title":["Gain 2x","Digital Count"]}},"color":{"field":"s","type":"nominal","scale":{"domain":["k","g","b","m","r"],"range":["#000000","#008000","#0000ff","#bf00bf","#ff0000"]},"legend":null}}},
{"width":822,"height":312,"data":{"name":"R2"},"mark":{"type":"point","filled":true,"size":110,"opacity":1},"encoding":{"x":{"field":"x","type":"quantitative","scale":{"domain":[-0.00768,0.03223],"nice":false,"zero":false},"axis":{"values":[-0.005,0,0.005,0.01,0.015,0.02,0.025,0.03],"format":".3f","title":null}},"y":{"field":"y","type":"quantitative","scale":{"domain":[250,350],"nice":false,"zero":false},"axis":{"values":[260,280,300,320,340],"title":null}},"color":{"field":"s","type":"nominal","scale":{"domain":["k","g","b","m","r"],"range":["#000000","#008000","#0000ff","#bf00bf","#ff0000"]},"legend":null}}},
{"width":822,"height":312,"data":{"name":"H2"},"mark":{"type":"point","filled":true,"size":110,"opacity":1},"encoding":{"x":{"field":"x","type":"quantitative","scale":{"domain":[-0.00768,0.03223],"nice":false,"zero":false},"axis":{"values":[-0.005,0,0.005,0.01,0.015,0.02,0.025,0.03],"format":".3f","title":null}},"y":{"field":"y","type":"quantitative","scale":{"domain":[250,350],"nice":false,"zero":false},"axis":{"values":[260,280,300,320,340],"title":null}},"color":{"field":"s","type":"nominal","scale":{"domain":["k","g","b","m","r"],"range":["#000000","#008000","#0000ff","#bf00bf","#ff0000"]},"legend":null}}},
{"width":822,"height":312,"data":{"name":"C4"},"mark":{"type":"point","filled":true,"size":110,"opacity":1},"encoding":{"x":{"field":"x","type":"quantitative","scale":{"domain":[-0.00768,0.03223],"nice":false,"zero":false},"axis":{"values":[-0.005,0,0.005,0.01,0.015,0.02,0.025,0.03],"format":".3f","title":null}},"y":{"field":"y","type":"quantitative","scale":{"domain":[250,350],"nice":false,"zero":false},"axis":{"values":[260,280,300,320,340],"title":["Gain 4x","Digital Count"]}},"color":{"field":"s","type":"nominal","scale":{"domain":["k","g","b","m","r"],"range":["#000000","#008000","#0000ff","#bf00bf","#ff0000"]},"legend":null}}},
{"width":822,"height":312,"data":{"name":"R4"},"mark":{"type":"point","filled":true,"size":110,"opacity":1},"encoding":{"x":{"field":"x","type":"quantitative","scale":{"domain":[-0.00768,0.03223],"nice":false,"zero":false},"axis":{"values":[-0.005,0,0.005,0.01,0.015,0.02,0.025,0.03],"format":".3f","title":null}},"y":{"field":"y","type":"quantitative","scale":{"domain":[250,350],"nice":false,"zero":false},"axis":{"values":[260,280,300,320,340],"title":null}},"color":{"field":"s","type":"nominal","scale":{"domain":["k","g","b","m","r"],"range":["#000000","#008000","#0000ff","#bf00bf","#ff0000"]},"legend":null}}},
{"width":822,"height":312,"data":{"name":"H4"},"mark":{"type":"point","filled":true,"size":110,"opacity":1},"encoding":{"x":{"field":"x","type":"quantitative","scale":{"domain":[-0.00768,0.03223],"nice":false,"zero":false},"axis":{"values":[-0.005,0,0.005,0.01,0.015,0.02,0.025,0.03],"format":".3f","title":null}},"y":{"field":"y","type":"quantitative","scale":{"domain":[250,350],"nice":false,"zero":false},"axis":{"values":[260,280,300,320,340],"title":null}},"color":{"field":"s","type":"nominal","scale":{"domain":["k","g","b","m","r"],"range":["#000000","#008000","#0000ff","#bf00bf","#ff0000"]},"legend":null}}},
{"width":822,"height":312,"data":{"name":"C8"},"mark":{"type":"point","filled":true,"size":110,"opacity":1},"encoding":{"x":{"field":"x","type":"quantitative","scale":{"domain":[-0.00768,0.03223],"nice":false,"zero":false},"axis":{"values":[-0.005,0,0.005,0.01,0.015,0.02,0.025,0.03],"format":".3f","title":"Exposure Time [s]"}},"y":{"field":"y","type":"quantitative","scale":{"domain":[250,350],"nice":false,"zero":false},"axis":{"values":[260,280,300,320,340],"title":["Gain 8x","Digital Count"]}},"color":{"field":"s","type":"nominal","scale":{"domain":["k","g","b","m","r"],"range":["#000000","#008000","#0000ff","#bf00bf","#ff0000"]},"legend":null}}},
{"width":822,"height":312,"data":{"name":"R8"},"mark":{"type":"point","filled":true,"size":110,"opacity":1},"encoding":{"x":{"field":"x","type":"quantitative","scale":{"domain":[-0.00768,0.03223],"nice":false,"zero":false},"axis":{"values":[-0.005,0,0.005,0.01,0.015,0.02,0.025,0.03],"format":".3f","title":"Exposure Time [s]"}},"y":{"field":"y","type":"quantitative","scale":{"domain":[250,350],"nice":false,"zero":false},"axis":{"values":[260,280,300,320,340],"title":null}},"color":{"field":"s","type":"nominal","scale":{"domain":["k","g","b","m","r"],"range":["#000000","#008000","#0000ff","#bf00bf","#ff0000"]},"legend":null}}},
{"width":822,"height":312,"data":{"name":"H8"},"mark":{"type":"point","filled":true,"size":110,"opacity":1},"encoding":{"x":{"field":"x","type":"quantitative","scale":{"domain":[-0.00768,0.03223],"nice":false,"zero":false},"axis":{"values":[-0.005,0,0.005,0.01,0.015,0.02,0.025,0.03],"format":".3f","title":"Exposure Time [s]"}},"y":{"field":"y","type":"quantitative","scale":{"domain":[250,350],"nice":false,"zero":false},"axis":{"values":[260,280,300,320,340],"title":null}},"color":{"field":"s","type":"nominal","scale":{"domain":["k","g","b","m","r"],"range":["#000000","#008000","#0000ff","#bf00bf","#ff0000"]},"legend":null}}}
]
}
